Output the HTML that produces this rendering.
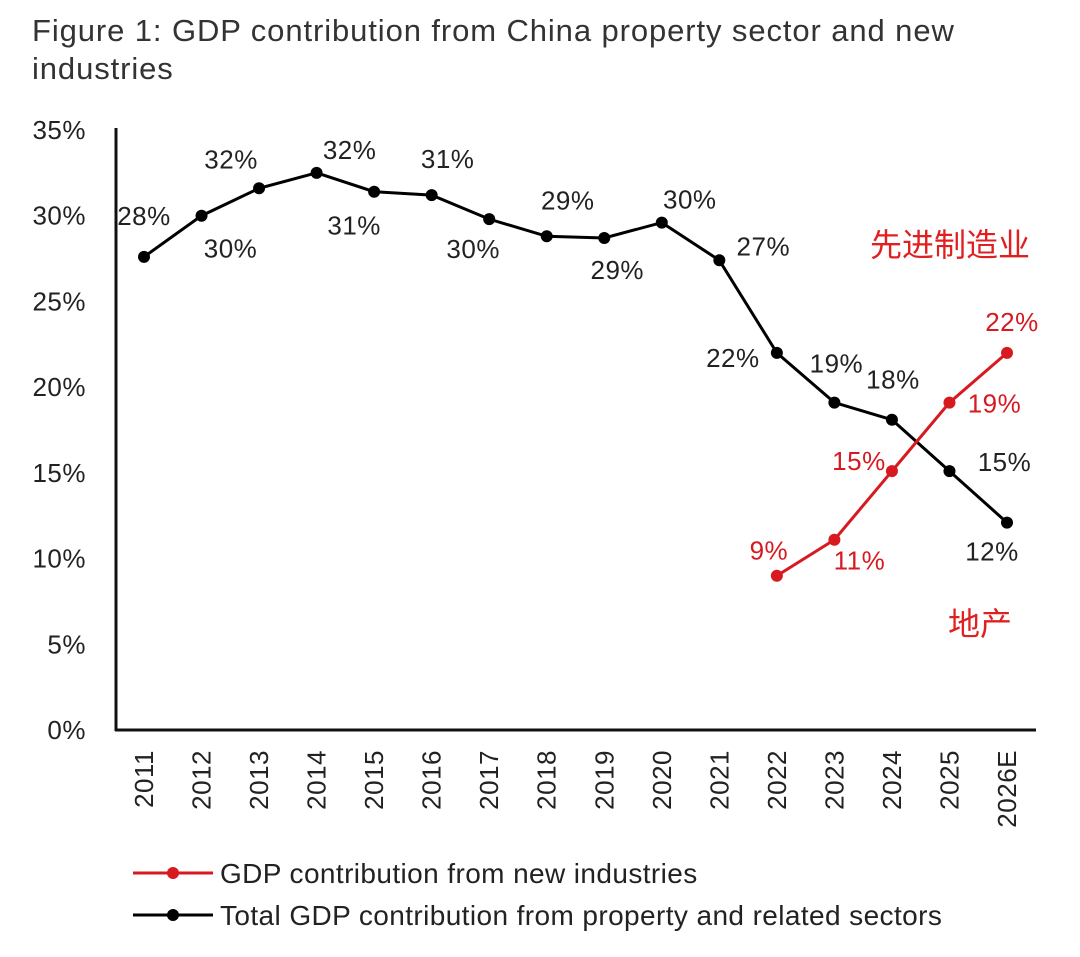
<!DOCTYPE html>
<html><head><meta charset="utf-8"><style>
body{margin:0;background:#fff;width:1080px;height:952px;overflow:hidden;font-family:"Liberation Sans","Noto Sans CJK SC",sans-serif}
</style></head><body>
<svg width="1080" height="952" xmlns="http://www.w3.org/2000/svg" id="chart" font-family="Liberation Sans, Noto Sans CJK SC, sans-serif">
<text x="32" y="41" font-size="31" letter-spacing="0.9" fill="#333">Figure 1: GDP contribution from China property sector and new</text>
<text x="32" y="79" font-size="31" letter-spacing="0.9" fill="#333">industries</text>
<g id="yaxis"></g>
<g id="xaxis"></g>
<g id="series"></g>
<text x="870" y="256" font-size="32" fill="#e02020">先进制造业</text>
<text x="948" y="635" font-size="32" fill="#e02020">地产</text>
<g>
<g>
<line x1="133" y1="873" x2="213" y2="873" stroke="#d71920" stroke-width="3"/><circle cx="173" cy="873" r="6" fill="#d71920"/>
<text x="220" y="883" font-size="28" letter-spacing="0.4" fill="#222">GDP contribution from new industries</text></g>
<g>
<line x1="133" y1="915" x2="213" y2="915" stroke="#000" stroke-width="3"/><circle cx="173" cy="915" r="6" fill="#000"/>
<text x="220" y="925" font-size="28" letter-spacing="0.4" fill="#222">Total GDP contribution from property and related sectors</text></g>
</g>
</svg>
<script>
const categories=["2011","2012","2013","2014","2015","2016","2017","2018","2019","2020","2021","2022","2023","2024","2025","2026E"];
const propertyValues=[27.6,30.0,31.6,32.5,31.4,31.2,29.8,28.8,28.7,29.6,27.4,22.0,19.1,18.1,15.1,12.1];
const propertyLabels=["28%","30%","32%","32%","31%","31%","30%","29%","29%","30%","27%","22%","19%","18%","15%","12%"];
const newIndIdx=[11,12,13,14,15];
const newIndValues=[9.0,11.1,15.1,19.1,22.0];
const newIndLabels=["9%","11%","15%","19%","22%"];
const yTicks=[0,5,10,15,20,25,30,35];
const yTickLabels=["0%","5%","10%","15%","20%","25%","30%","35%"];
// label layout offsets (styling)
const propOff=[[0,-41],[29,33],[-28,-29],[33,-23],[-20,34],[16,-36],[-16,30],[21,-36],[13,32],[28,-23],[44,-14],[-44,5],[2,-39],[1,-40],[55,-9],[-15,29]];
const newOff=[[-8,-25],[25,21],[-33,-10],[45,1],[5,-31]];
const svg=document.getElementById('chart');
const NS="http://www.w3.org/2000/svg";
const x=i=>144+i*(1007-144)/15;
const y=v=>730-v*600/35;
function mk(tag,attrs,parent){const e=document.createElementNS(NS,tag);for(const k in attrs)e.setAttribute(k,attrs[k]);parent.appendChild(e);return e;}
const ya=document.getElementById('yaxis'),xa=document.getElementById('xaxis'),sg=document.getElementById('series');
mk('line',{x1:116,y1:128,x2:116,y2:731,stroke:'#111','stroke-width':3},ya);
mk('line',{x1:115,y1:730,x2:1036,y2:730,stroke:'#111','stroke-width':3},xa);
yTicks.forEach((t,i)=>{const e=mk('text',{x:86,y:y(t)+9,'font-size':26,'letter-spacing':0.5,fill:'#222','text-anchor':'end'},ya);e.textContent=yTickLabels[i];

});
categories.forEach((c,i)=>{const e=mk('text',{x:0,y:0,'font-size':26,'letter-spacing':0.5,fill:'#222','text-anchor':'end',transform:`translate(${x(i)+9},750) rotate(-90)`},xa);e.textContent=c;

});
function series(idx,vals,labels,off,color,name){
 const pts=vals.map((v,j)=>[x(idx[j]),y(v)]);
 const pl=mk('polyline',{points:pts.map(p=>p.join(',')).join(' '),fill:'none',stroke:color,'stroke-width':3},sg);
 
 
 pts.forEach((p,j)=>{const c=mk('circle',{cx:p[0],cy:p[1],r:6,fill:color},sg);
 
 
 const t=mk('text',{x:p[0]+off[j][0],y:p[1]+off[j][1]+9,'font-size':26,'letter-spacing':0.5,fill:color==='#000'?'#222':color,'text-anchor':'middle'},sg);t.textContent=labels[j];
 
 });
}
series(categories.map((c,i)=>i),propertyValues,propertyLabels,propOff,'#000','property');
series(newIndIdx,newIndValues,newIndLabels,newOff,'#d71920','new-industries');
</script>
</body></html>
